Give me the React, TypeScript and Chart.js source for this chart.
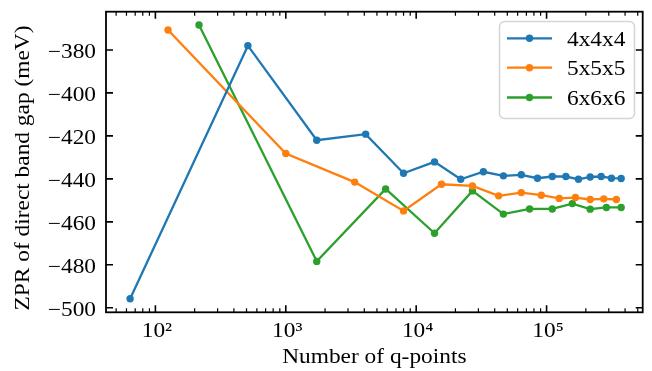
import React, { useEffect, useRef } from "react";
import { Chart, registerables } from "chart.js";

Chart.register(...registerables);

const FONT = '"Liberation Serif", "Times New Roman", serif';
const FONT_SIZE = 20.5;
const STRETCH = 1.14;

const seriesLabels = ["4x4x4", "5x5x5", "6x6x6"];
const seriesColors = ["#1f77b4", "#ff7f0e", "#2ca02c"];

const qA = [64, 512, 1728, 4096, 8000, 13824, 21952, 32768, 46656, 64000, 85184, 110592, 140608, 175616, 216000, 262144, 314432, 373248];
const zprA = [-495.8, -378, -422, -419.2, -437.4, -432.1, -440.2, -436.7, -438.6, -438.1, -439.7, -438.9, -438.9, -440.2, -439.1, -438.9, -439.7, -439.8];

const qB = [125, 1000, 3375, 8000, 15625, 27000, 42875, 64000, 91125, 125000, 166375, 216000, 274625, 343000];
const zprB = [-370.7, -428.2, -441.5, -454.9, -442.5, -443.3, -447.9, -446.4, -447.6, -449.1, -448.7, -449.6, -449.3, -449.6];

const qC = [216, 1728, 5832, 13824, 27000, 46656, 74088, 110592, 157464, 216000, 287496, 373248];
const zprC = [-368.4, -478.4, -444.7, -465.3, -445.6, -456.4, -454, -454, -451.5, -454.1, -453.3, -453.3];

const xMajorTicks = [100, 1000, 10000, 100000];
const xTickLabels = ["10²", "10³", "10⁴", "10⁵"];
const yTicks = [-500, -480, -460, -440, -420, -400, -380];
const yTickLabels = ["−500", "−480", "−460", "−440", "−420", "−400", "−380"];
const xTitle = "Number of q-points";
const yTitle = "ZPR of direct band gap (meV)";

const X_MIN = 41.8;
const X_MAX = 546000;
const Y_MIN = -502.1;
const Y_MAX = -362.2;

function minorTicks(): number[] {
  const out: number[] = [];
  for (let d = 1; d <= 5; d++) {
    const base = Math.pow(10, d);
    for (let m = 2; m <= 9; m++) {
      const v = base * m;
      if (v > X_MIN && v < X_MAX) out.push(v);
    }
  }
  return out;
}

function drawText(ctx: CanvasRenderingContext2D, text: string, x: number, y: number, align: CanvasTextAlign, rot = 0) {
  ctx.save();
  ctx.translate(x, y);
  if (rot) ctx.rotate(rot);
  ctx.scale(STRETCH, 1);
  ctx.font = `${FONT_SIZE}px ${FONT}`;
  ctx.textAlign = align;
  ctx.textBaseline = "alphabetic";
  ctx.fillText(text, 0, 0);
  ctx.restore();
}

const framePlugin = {
  id: "frameTicks",
  afterDatasetsDraw(chart: any) {
    const { ctx, chartArea } = chart;
    const { left, right, top, bottom } = chartArea;
    const xs = chart.scales.x;
    const ys = chart.scales.y;
    ctx.save();
    ctx.strokeStyle = "#000";
    ctx.lineCap = "butt";
    // minor x ticks
    ctx.lineWidth = 1.2;
    ctx.beginPath();
    for (const v of minorTicks()) {
      const px = xs.getPixelForValue(v);
      ctx.moveTo(px, bottom);
      ctx.lineTo(px, bottom - 4);
      ctx.moveTo(px, top);
      ctx.lineTo(px, top + 4);
    }
    ctx.stroke();
    // major ticks
    ctx.lineWidth = 1.6;
    ctx.beginPath();
    for (const v of xMajorTicks) {
      const px = xs.getPixelForValue(v);
      ctx.moveTo(px, bottom);
      ctx.lineTo(px, bottom - 7);
      ctx.moveTo(px, top);
      ctx.lineTo(px, top + 7);
    }
    for (const v of yTicks) {
      const py = ys.getPixelForValue(v);
      ctx.moveTo(left, py);
      ctx.lineTo(left + 7, py);
      ctx.moveTo(right, py);
      ctx.lineTo(right - 7, py);
    }
    ctx.stroke();
    // frame
    ctx.lineWidth = 1.8;
    ctx.strokeRect(left, top, right - left, bottom - top);

    // tick labels
    ctx.fillStyle = "#000";
    yTicks.forEach((v, i) => {
      const py = ys.getPixelForValue(v);
      drawText(ctx, yTickLabels[i], 96, py + 8.2, "right");
    });
    xMajorTicks.forEach((v, i) => {
      const px = xs.getPixelForValue(v);
      drawText(ctx, xTickLabels[i], px + 1.5, 336.7, "center");
    });
    // axis titles
    drawText(ctx, xTitle, (left + right) / 2, 363, "center");
    drawText(ctx, yTitle, 29, (top + bottom) / 2 + 6, "center", -Math.PI / 2);

    // legend
    const bx = 499.5, by = 21.5, bw = 135, bh = 97;
    ctx.beginPath();
    ctx.roundRect(bx, by, bw, bh, 5);
    ctx.fillStyle = "rgba(255,255,255,0.85)";
    ctx.fill();
    ctx.lineWidth = 1.5;
    ctx.strokeStyle = "#d5d5d5";
    ctx.stroke();
    const rows = [38.3, 67.7, 97.5];
    chart.data.datasets.forEach((ds: any, i: number) => {
      const ry = rows[i];
      ctx.strokeStyle = ds.borderColor;
      ctx.lineWidth = 2.3;
      ctx.beginPath();
      ctx.moveTo(507, ry);
      ctx.lineTo(552, ry);
      ctx.stroke();
      ctx.fillStyle = ds.borderColor;
      ctx.beginPath();
      ctx.arc(529.5, ry, 3.7, 0, Math.PI * 2);
      ctx.fill();
      ctx.fillStyle = "#000";
      drawText(ctx, ds.label, 567, ry + 7.7, "left");
    });
    ctx.restore();
  },
};

export default function App() {
  const ref = useRef<HTMLCanvasElement | null>(null);
  useEffect(() => {
    if (!ref.current) return;
    const series = [
      [qA, zprA],
      [qB, zprB],
      [qC, zprC],
    ];
    const chart = new Chart(ref.current, {
      type: "line",
      data: {
        datasets: series.map(([qs, vs], i) => ({
          label: seriesLabels[i],
          data: qs.map((q, j) => ({ x: q, y: vs[j] })),
          borderColor: seriesColors[i],
          backgroundColor: seriesColors[i],
          borderWidth: 2.3,
          pointRadius: 3.7,
          pointHoverRadius: 3.7,
          pointBorderWidth: 0,
          tension: 0,
          fill: false,
        })),
      },
      options: {
        responsive: false,
        animation: false,
        devicePixelRatio: 1,
        layout: { padding: { left: 106, right: 9.3, top: 11.7, bottom: 58.7 } },
        plugins: { legend: { display: false }, tooltip: { enabled: false } },
        scales: {
          x: {
            type: "logarithmic",
            display: false,
            min: X_MIN,
            max: X_MAX,
          },
          y: {
            type: "linear",
            display: false,
            min: Y_MIN,
            max: Y_MAX,
          },
        },
      },
      plugins: [framePlugin],
    });
    return () => chart.destroy();
  }, []);
  return (
    <div style={{ position: "fixed", left: 0, top: 0, width: 652, height: 371, background: "#fff" }}>
      <canvas ref={ref} width={652} height={371} style={{ width: 652, height: 371, display: "block" }} />
    </div>
  );
}
